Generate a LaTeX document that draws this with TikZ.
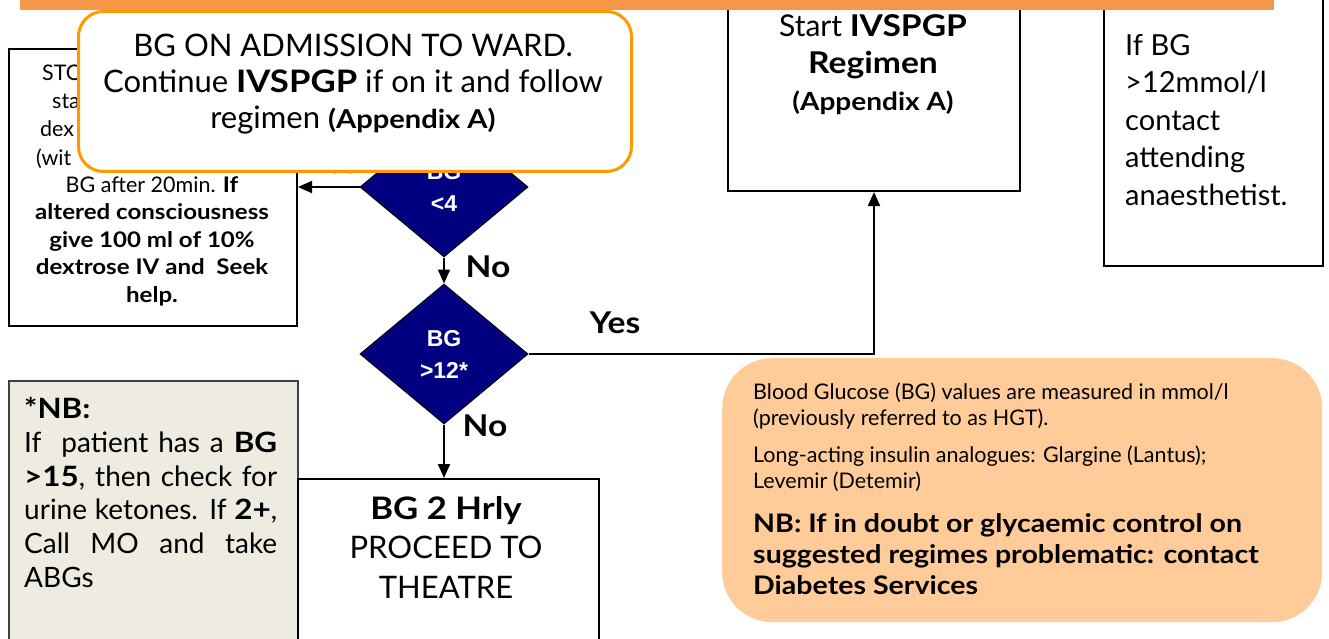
\documentclass[tikz,border=0pt]{standalone}
\usepackage{fontspec}
\setmainfont{Lato}[BoldFeatures={FakeStretch=1.12}]
\newfontfamily\arialf{Liberation Sans}
\usetikzlibrary{shapes.geometric,arrows.meta}
\definecolor{barorange}{HTML}{F79646}
\definecolor{boxorange}{HTML}{FF9900}
\definecolor{navy}{HTML}{000080}
\definecolor{peach}{HTML}{FFCC99}
\definecolor{nbfill}{HTML}{EEECE1}
\definecolor{nbdraw}{HTML}{404040}
\newcommand{\fsz}[2]{\fontsize{#1}{#2}\selectfont}
\begin{document}
\begin{tikzpicture}[x=1pt,y=-1pt,
  box/.style={draw=black, line width=2pt, fill=white, rectangle, inner sep=0pt},
  txt/.style={inner sep=0pt, align=center},
  ltxt/.style={inner sep=0pt, anchor=north west, align=left},
  frag/.style={inner sep=0pt, anchor=base west, font=\fsz{21.5}{27.5}},
  dec/.style={diamond, draw=black, line width=1pt, fill=navy, text=white,
    font=\arialf\bfseries\fsz{23}{32}, align=center, inner sep=0pt},
  arr/.style={line width=2pt, -{Triangle[length=14pt,width=12pt]}},
  lbl/.style={font=\bfseries\fsz{30}{32}, inner sep=0pt},
]
\useasboundingbox (0,0) rectangle (1329,639);
\clip (0,0) rectangle (1329,639);

% left STOP box (upper lines are partly hidden by the admission box)
\node[box, minimum width=288pt, minimum height=277pt, anchor=north west] (stop) at (8,48) {};
\node[frag] (stop1) at (42,81) {STO};
\node[frag] (stop2) at (52,109) {sta};
\node[frag] (stop3) at (40,137) {dex};
\node[frag] (stop4) at (36,165) {(wit};
\node[txt, font=\fsz{21.5}{27.5}] (stoptxt) at (152,241)
  {BG after 20min. \textbf{If}\\ \textbf{altered consciousness}\\
   \textbf{give 100 ml of 10\%}\\ \textbf{dextrose IV and\ \ Seek}\\ \textbf{help.}};

% diamonds
\node[dec, minimum width=168pt, minimum height=140pt] (d1) at (444,187) {BG\\<4};
\node[dec, minimum width=168pt, minimum height=140pt] (d2) at (444,354) {BG\\>12*};

% start box
\node[box, minimum width=292pt, minimum height=210pt, anchor=north west] (start) at (727,-20) {};
\node[txt, font=\fsz{30}{37}] (starttxt) at (873,65)
  {Start \textbf{IVSPGP}\\ \textbf{Regimen}\\ {\bfseries\fsz{25}{36}(Appendix A)}};

% right box
\node[box, minimum width=219pt, minimum height=285pt, anchor=north west] (contact) at (1103,-20) {};
\node[ltxt, font=\fsz{29}{37.5}] (contacttxt) at (1125,34)
  {If BG\\ >12mmol/l\\ contact\\ attending\\ anaesthetist.};

% NB box
\node[draw=nbdraw, line width=2pt, fill=nbfill, rectangle, inner sep=0pt,
  minimum width=289pt, minimum height=280pt, anchor=north west] (nb) at (8,380) {};
\node[ltxt, font=\fsz{28}{33.8}] (nbtxt) at (24,397)
  {\textbf{*NB:}\\
   \makebox[253pt][s]{If\ \ patient has a \textbf{BG}}\\
   \makebox[253pt][s]{\textbf{>15}, then check for}\\
   \makebox[253pt][s]{urine ketones. If \textbf{2+},}\\
   \makebox[253pt][s]{Call MO and take}\\
   ABGs};

% BG 2 hrly box
\node[box, minimum width=301pt, minimum height=180pt, anchor=north west] (bg2) at (297,478) {};
\node[txt, font=\fsz{31}{39.5}] (bg2txt) at (446,547)
  {\textbf{BG 2 Hrly}\\ PROCEED TO\\ THEATRE};

% peach note
\node[fill=peach, rounded corners=50pt, rectangle, inner sep=0pt,
  minimum width=600pt, minimum height=264pt, anchor=north west] (note) at (722,358) {};
\node[ltxt, font=\fsz{21.5}{26}] (note1) at (753,383)
  {Blood Glucose (BG) values are measured in mmol/l\\ (previously referred to as HGT).};
\node[ltxt, font=\fsz{21.5}{26}] (note2) at (753,446)
  {Long-acting insulin analogues: Glargine (Lantus);\\ Levemir (Detemir)};
\node[ltxt, font=\bfseries\fsz{25.5}{31}] (note3) at (753,513)
  {NB: If in doubt or glycaemic control on\\ suggested regimes problematic: contact\\ Diabetes Services};

% connectors
\draw[arr] (d1.west) -- (d1.west -| stop.east);
\node[lbl] (yes1) at (333,163) {Yes};
\draw[arr] (d1.south) -- (d2.north);
\node[lbl] (no1) at (488,267) {No};
\draw[arr] (d2.east) -| (start.south);
\node[lbl] (yes2) at (615,323) {Yes};
\draw[arr] (d2.south) -- (d2.south |- bg2.north);
\node[lbl] (no2) at (485,426) {No};

% admission box (on top)
\node[draw=boxorange, line width=3pt, fill=white, rounded corners=25pt, rectangle,
  inner sep=0pt, minimum width=553pt, minimum height=160pt, anchor=north west] (adm) at (77,10) {};
\node[txt, font=\fsz{31}{36}] (admtxt) at (353,84)
  {BG ON ADMISSION TO WARD.\\ Continue \textbf{IVSPGP} if on it and follow\\
   regimen {\bfseries\fsz{26}{36}(Appendix A)}};

% top bar
\fill[barorange] (20,-5) rectangle (1274,10);
\end{tikzpicture}
\end{document}
